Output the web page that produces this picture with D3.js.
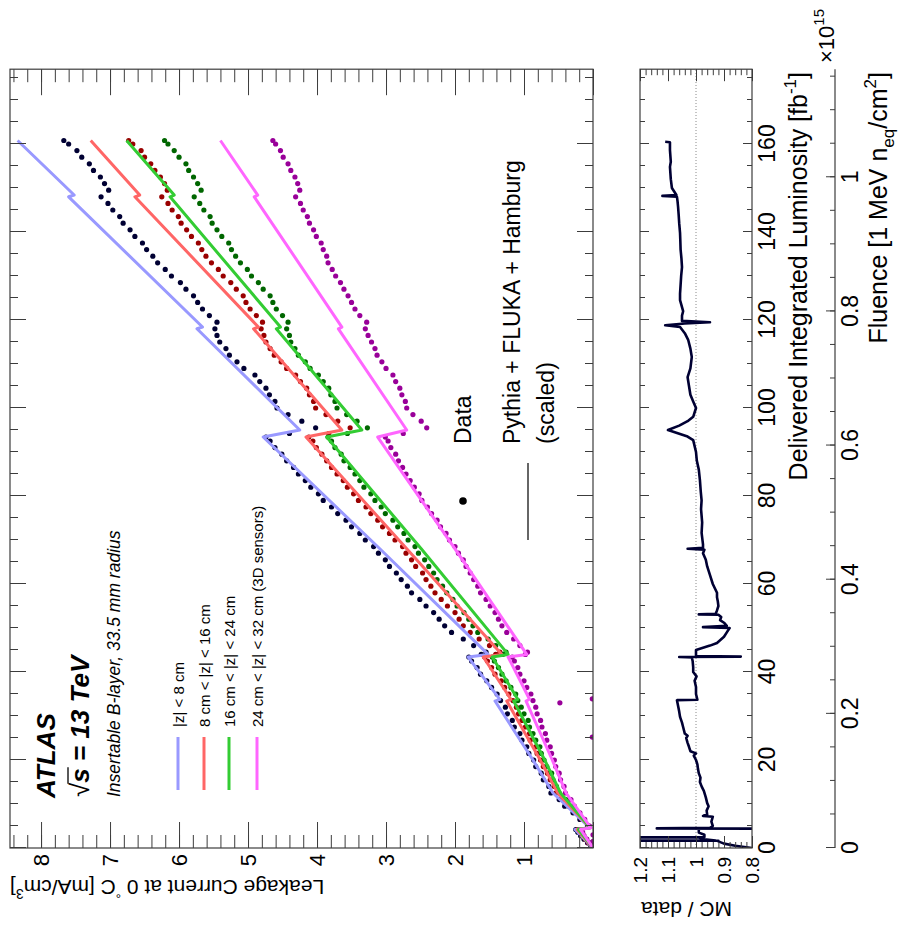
<!DOCTYPE html>
<html><head><meta charset="utf-8">
<script src="https://cdn.jsdelivr.net/npm/d3@7"></script>
<style>
html,body{margin:0;padding:0;background:#fff;}
svg{display:block;}
</style></head><body>
<svg id="chart" width="900" height="925"></svg>
<script>
// ---------------- DATA ----------------
const seriesNames = ["|z| < 8 cm", "8 cm < |z| < 16 cm", "16 cm < |z| < 24 cm", "24 cm < |z| < 32 cm (3D sensors)"];

// Delivered integrated luminosity [fb^-1] of the measured points
const dataLumi = [0.4,1.2,2.0,2.8,3.6,4.2,
 5.0,6.5,8.0,9.5,11.0,12.5,14.0,15.5,17.0,18.5,20.0,21.5,23.0,24.5,26.0,27.5,29.0,30.5,32.0,33.5,35.0,36.5,38.0,39.5,41.0,42.5,43.4,44.0,
 44.5,46.0,47.5,49.0,50.5,52.0,53.5,55.0,56.5,58.0,59.5,61.0,62.5,64.0,65.5,67.0,68.5,70.0,71.5,73.0,74.5,76.0,77.5,79.0,80.5,82.0,83.5,85.0,86.5,88.0,89.5,91.0,92.5,93.4,94.2,
 95.5,97.0,98.5,100.0,101.5,103.0,104.5,106.0,107.5,109.0,110.5,112.0,113.5,115.0,116.5,118.0,119.5,121.0,122.5,124.0,125.5,127.0,128.5,130.0,131.5,133.0,134.5,136.0,137.5,139.0,140.5,142.0,143.5,145.0,146.5,148.0,149.5,151.0,152.5,154.0,155.5,157.0,158.5,160.0,160.8];

// Leakage current at 0 C [mA/cm^3], data
const dataZ1 = [0.03,0.08,0.13,0.18,0.22,0.25,
 0.08,0.19,0.29,0.41,0.49,0.61,0.64,0.72,0.75,0.83,0.86,0.93,0.96,1.03,1.06,1.14,1.17,1.24,1.27,1.34,1.39,1.47,1.54,1.63,1.68,1.76,1.80,1.62,
 1.55,1.73,1.88,2.05,2.15,2.23,2.31,2.42,2.51,2.63,2.69,2.78,2.85,2.95,3.01,3.11,3.18,3.30,3.38,3.50,3.58,3.70,3.79,3.91,3.98,4.09,4.17,4.27,4.34,4.44,4.51,4.61,4.68,4.74,4.40,
 4.02,4.22,4.42,4.58,4.61,4.69,4.74,4.83,4.90,5.06,5.16,5.27,5.32,5.41,5.45,5.48,5.45,5.56,5.66,5.73,5.79,5.90,5.98,6.11,6.20,6.31,6.38,6.47,6.53,6.64,6.71,6.81,6.86,6.96,7.03,7.13,7.02,7.08,7.14,7.24,7.30,7.41,7.48,7.60,7.67];
const dataZ2 = [0.02,0.07,0.11,0.16,0.19,0.22,
 0.07,0.16,0.25,0.35,0.43,0.54,0.56,0.62,0.66,0.72,0.76,0.81,0.83,0.91,0.92,0.98,1.03,1.08,1.11,1.16,1.22,1.28,1.33,1.42,1.47,1.53,1.57,1.41,
 1.35,1.50,1.65,1.78,1.88,1.94,2.00,2.11,2.20,2.29,2.35,2.42,2.47,2.57,2.63,2.71,2.76,2.87,2.95,3.05,3.12,3.22,3.29,3.40,3.47,3.56,3.62,3.71,3.79,3.86,3.93,4.01,4.06,4.12,3.83,
 3.52,3.70,3.87,4.02,4.05,4.11,4.15,4.24,4.31,4.44,4.52,4.62,4.68,4.74,4.77,4.81,4.79,4.88,4.97,5.03,5.07,5.17,5.25,5.36,5.43,5.53,5.61,5.67,5.72,5.82,5.89,5.97,6.01,6.10,6.16,6.25,6.17,6.21,6.27,6.35,6.41,6.50,6.55,6.67,6.73];
const dataZ3 = [0.02,0.06,0.10,0.15,0.18,0.20,
 0.06,0.15,0.24,0.33,0.39,0.49,0.53,0.58,0.60,0.67,0.71,0.75,0.77,0.83,0.87,0.92,0.94,1.00,1.04,1.09,1.12,1.19,1.26,1.32,1.37,1.43,1.46,1.31,
 1.26,1.41,1.52,1.67,1.74,1.80,1.87,1.97,2.03,2.12,2.18,2.26,2.31,2.38,2.44,2.53,2.58,2.68,2.74,2.83,2.90,3.01,3.07,3.16,3.22,3.32,3.38,3.45,3.52,3.61,3.65,3.74,3.79,3.84,3.56,
 3.27,3.42,3.57,3.71,3.74,3.80,3.83,3.91,3.98,4.10,4.17,4.27,4.32,4.38,4.40,4.44,4.42,4.50,4.59,4.64,4.68,4.78,4.85,4.95,5.01,5.11,5.18,5.24,5.28,5.38,5.45,5.52,5.55,5.64,5.70,5.78,5.68,5.73,5.79,5.86,5.90,6.00,6.07,6.16,6.21];
const dataZ4 = [0.02,0.06,0.09,0.13,0.15,0.18,
 0.05,0.12,0.19,0.27,0.32,0.40,0.42,0.47,0.49,0.54,0.56,0.60,0.62,0.67,0.69,0.74,0.76,0.81,0.83,0.87,0.90,0.96,1.00,1.06,1.09,1.14,1.17,0.98,
 0.95,1.06,1.15,1.25,1.32,1.37,1.42,1.49,1.55,1.63,1.67,1.73,1.78,1.84,1.88,1.95,2.00,2.08,2.13,2.21,2.26,2.34,2.40,2.48,2.52,2.59,2.65,2.71,2.76,2.82,2.86,2.93,2.97,3.01,2.75,
 2.41,2.49,2.61,2.70,2.72,2.77,2.80,2.86,2.90,3.00,3.06,3.13,3.16,3.21,3.26,3.30,3.28,3.38,3.45,3.50,3.55,3.61,3.66,3.73,3.78,3.84,3.86,3.91,3.94,4.01,4.05,4.11,4.14,4.20,4.24,4.31,4.25,4.28,4.32,4.38,4.42,4.49,4.53,4.60,4.64];
const purpleExtraLumi = [1.5, 3.0, 25.2, 33.0, 33.9];
const purpleExtraCurrent = [0.0, 0.0, 0.01, 0.48, 0.01];

// Pythia + FLUKA + Hamburg prediction (scaled)
const mcLumi = [0, 4.2, 4.6, 12.5, 20, 33.4, 33.8, 43.4, 44.0, 68, 93.4, 95.0, 118, 118.4, 148, 148.4, 160.8];
const mcZ1 = [0, 0.26, 0.05, 0.58, 0.87, 1.42, 1.35, 1.81, 1.52, 3.09, 4.78, 4.25, 5.74, 5.66, 7.60, 7.52, 8.34];
const mcZ2 = [0, 0.23, 0.04, 0.51, 0.765, 1.25, 1.19, 1.59, 1.32, 2.70, 4.16, 3.64, 4.92, 4.85, 6.64, 6.57, 7.28];
const mcZ3 = [0, 0.21, 0.04, 0.47, 0.70, 1.15, 1.09, 1.46, 1.23, 2.49, 3.86, 3.35, 4.59, 4.53, 6.13, 6.07, 6.76];
const mcZ4 = [0, 0.18, 0.03, 0.39, 0.59, 0.97, 0.92, 1.23, 0.96, 2.00, 3.12, 2.70, 3.69, 3.64, 4.91, 4.86, 5.40];

// MC / data ratio
const ratioLumi = [0.0,0.5,1.0,1.5,1.66,1.66,1.7,2.0,2.4,2.4,2.5,3.0,3.5,4.0,4.4,4.4,4.45,4.6,5.0,6.0,
 7.1,7.3,7.6,8.5,9.5,10.2,11.5,13.0,14.0,15.0,16.0,17.0,18.0,19.0,20.0,21.0,21.5,22.0,23.0,23.9,
 25.0,25.5,26.0,27.5,28.5,29.8,31.0,32.0,33.6,33.7,35.0,36.6,38.0,39.0,40.0,41.1,42.5,43.3,43.4,43.5,
 43.6,45.0,46.0,46.6,48.0,49.0,50.0,50.2,50.5,51.2,51.8,52.5,53.0,53.1,53.2,54.0,55.0,56.0,57.0,58.0,
 60.0,62.0,64.0,65.5,67.0,67.8,68.0,68.2,69.0,71.6,74.0,77.0,79.0,81.0,83.6,86.0,88.0,90.0,92.7,93.5,
 95.0,96.0,97.0,98.0,100.0,101.5,103.0,105.0,107.0,109.0,111.6,113.5,115.5,117.0,118.4,118.8,119.2,119.5,119.8,121.0,
 122.0,124.5,126.0,128.0,130.0,132.0,134.0,136.0,138.0,139.8,142.0,144.0,145.7,147.0,148.0,148.2,148.4,150.0,152.0,154.8,
 156.0,158.6,160.4,160.5];
const ratioValue = [0.80,0.86,0.90,0.92,0.92,1.25,0.93,0.97,0.99,1.25,0.97,0.97,0.99,0.99,0.99,0.78,1.14,0.95,0.94,0.945,
 0.94,0.975,0.96,0.962,0.955,0.96,0.965,0.972,0.98,0.986,0.984,0.99,0.993,0.995,1.0,1.008,1.0,1.02,1.025,1.03,
 1.035,1.03,1.04,1.046,1.05,1.057,1.06,1.063,1.068,0.995,1.0,1.0,1.005,0.998,1.01,1.01,1.012,1.015,1.06,0.84,
 1.0,1.0,0.95,0.925,0.90,0.89,0.88,0.975,0.89,0.90,0.914,0.91,0.92,0.99,0.93,0.925,0.92,0.922,0.925,0.925,
 0.94,0.95,0.96,0.965,0.975,0.97,1.03,0.975,0.975,0.98,0.978,0.982,0.98,0.983,0.986,0.99,0.997,1.0,1.01,1.03,
 1.10,1.06,1.03,1.01,1.0,1.01,1.02,1.025,1.03,1.02,1.015,1.02,1.028,1.04,1.057,1.11,1.04,0.95,1.05,1.05,
 1.046,1.057,1.057,1.055,1.053,1.05,1.052,1.055,1.056,1.057,1.06,1.062,1.064,1.066,1.068,1.12,1.07,1.086,1.09,1.093,
 1.09,1.093,1.093,1.11];

// Axis ticks / labels
const currentTicks = [1,2,3,4,5,6,7,8];
const currentTickLabels = ["1","2","3","4","5","6","7","8"];
const lumiTicks = [0,20,40,60,80,100,120,140,160];
const lumiTickLabels = ["0","20","40","60","80","100","120","140","160"];
const ratioTicks = [0.8,0.9,1.0,1.1,1.2];
const ratioTickLabels = ["0.8","0.9","1","1.1","1.2"];
const fluenceTicks = [0,0.2,0.4,0.6,0.8,1.0];
const fluenceTickLabels = ["0","0.2","0.4","0.6","0.8","1"];
const fluencePerLumi = 0.00656; // 10^15 n_eq/cm^2 per fb^-1

const dataColors = ["#000033", "#990000", "#006600", "#990099"];
const mcColors = ["#9999ff", "#ff6666", "#33cc33", "#ff66ff"];

// ---------------- DRAWING ----------------
const FONT = '"Liberation Sans", Arial, Helvetica, sans-serif';
const AX = "#3c3c3c";
const svg = d3.select("#chart");
// Whole figure is rotated 90 degrees counter-clockwise
const root = svg.append("g").attr("transform", "translate(0,925) rotate(-90)").attr("font-family", FONT);

const U0 = 77, LMAX = 177, U1 = U0 + LMAX * 4.4;
const x = d3.scaleLinear().domain([0, LMAX]).range([U0, U1]);
const yMain = d3.scaleLinear().domain([0, 8.45]).range([593, 10]);
const yRatio = d3.scaleLinear().domain([0.8, 1.2]).range([752, 640]);
const xFlu = d3.scaleLinear().domain([0, LMAX * fluencePerLumi]).range([U0, U1]);

const defs = svg.append("defs");
defs.append("clipPath").attr("id", "clipMain").append("rect")
  .attr("x", U0).attr("y", 10).attr("width", U1 - U0).attr("height", 583);
defs.append("clipPath").attr("id", "clipRatio").append("rect")
  .attr("x", U0).attr("y", 640).attr("width", U1 - U0).attr("height", 112);

function styleAxis(sel, fs) {
  sel.select(".domain").remove();
  sel.attr("font-family", FONT);
  sel.selectAll(".tick line").attr("stroke", AX).attr("stroke-width", 1);
  sel.selectAll(".tick text").attr("font-size", fs).attr("fill", "#000");
}
const steps = (a, b, s) => d3.range(Math.round((b - a) / s) + 1).map(i => +(a + i * s).toFixed(4));
const fmt = (ticks, labels) => (d => { const i = ticks.findIndex(t => Math.abs(t - d) < 1e-9); return i < 0 ? "" : labels[i]; });

// ---- main panel content ----
const plot = root.append("g").attr("clip-path", "url(#clipMain)");
const dataSeries = [dataZ1, dataZ2, dataZ3, dataZ4];
dataSeries.forEach((vals, k) => {
  plot.append("g").selectAll("circle")
    .data(dataLumi.map((l, i) => [l, vals[i]]))
    .join("circle")
    .attr("cx", d => x(d[0])).attr("cy", d => yMain(d[1]))
    .attr("r", 2.6).attr("fill", dataColors[k]);
});
plot.append("g").selectAll("circle")
  .data(purpleExtraLumi.map((l, i) => [l, purpleExtraCurrent[i]]))
  .join("circle")
  .attr("cx", d => x(d[0])).attr("cy", d => yMain(d[1]))
  .attr("r", 2.6).attr("fill", dataColors[3]);

const mcSeries = [mcZ1, mcZ2, mcZ3, mcZ4];
const mainLine = d3.line().x(d => x(d[0])).y(d => yMain(d[1]));
mcSeries.forEach((vals, k) => {
  plot.append("path")
    .attr("d", mainLine(mcLumi.map((l, i) => [l, vals[i]])))
    .attr("fill", "none").attr("stroke", mcColors[k]).attr("stroke-width", 3)
    .attr("stroke-linejoin", "round");
});

// ---- main panel axes ----
const curMinor = steps(0, 8.4, 0.2);
const lumiMinor = steps(0, 175, 5);
let a;
a = root.append("g").attr("transform", `translate(${U0},0)`);
styleAxis(a.append("g").call(d3.axisLeft(yMain).tickValues(curMinor).tickSize(-13).tickFormat("")), 20);
styleAxis(a.append("g").call(d3.axisLeft(yMain).tickValues([0, ...currentTicks]).tickSize(-26).tickPadding(6)
  .tickFormat(fmt(currentTicks, currentTickLabels))), 22);
a = root.append("g").attr("transform", `translate(${U1},0)`);
styleAxis(a.append("g").call(d3.axisRight(yMain).tickValues(curMinor).tickSize(-13).tickFormat("")), 20);
styleAxis(a.append("g").call(d3.axisRight(yMain).tickValues([0, ...currentTicks]).tickSize(-26).tickFormat("")), 20);
a = root.append("g").attr("transform", "translate(0,593)");
styleAxis(a.append("g").call(d3.axisBottom(x).tickValues(lumiMinor).tickSize(-8).tickFormat("")), 20);
styleAxis(a.append("g").call(d3.axisBottom(x).tickValues(lumiTicks).tickSize(-16).tickFormat("")), 20);
a = root.append("g").attr("transform", "translate(0,10)");
styleAxis(a.append("g").call(d3.axisTop(x).tickValues(lumiMinor).tickSize(-8).tickFormat("")), 20);
styleAxis(a.append("g").call(d3.axisTop(x).tickValues(lumiTicks).tickSize(-16).tickFormat("")), 20);

root.append("rect").attr("x", U0).attr("y", 10).attr("width", U1 - U0).attr("height", 583)
  .attr("fill", "none").attr("stroke", AX).attr("stroke-width", 1.2);

// ---- ratio panel ----
root.append("line").attr("x1", U0).attr("x2", U1).attr("y1", yRatio(1)).attr("y2", yRatio(1))
  .attr("stroke", "#8a8a8a").attr("stroke-width", 1).attr("stroke-dasharray", "1,2");
const ratioLine = d3.line().x(d => x(d[0])).y(d => yRatio(d[1]));
root.append("g").attr("clip-path", "url(#clipRatio)").append("path")
  .attr("d", ratioLine(ratioLumi.map((l, i) => [l, ratioValue[i]])))
  .attr("fill", "none").attr("stroke", "#000033").attr("stroke-width", 2.6)
  .attr("stroke-linejoin", "round");

const ratioMinor = steps(0.8, 1.2, 0.02);
a = root.append("g").attr("transform", `translate(${U0},0)`);
styleAxis(a.append("g").call(d3.axisLeft(yRatio).tickValues(ratioMinor).tickSize(-6).tickFormat("")), 19);
styleAxis(a.append("g").call(d3.axisLeft(yRatio).tickValues(ratioTicks).tickSize(-12).tickPadding(9)
  .tickFormat(fmt(ratioTicks, ratioTickLabels))), 19);
a = root.append("g").attr("transform", `translate(${U1},0)`);
styleAxis(a.append("g").call(d3.axisRight(yRatio).tickValues(ratioMinor).tickSize(-6).tickFormat("")), 19);
styleAxis(a.append("g").call(d3.axisRight(yRatio).tickValues(ratioTicks).tickSize(-12).tickFormat("")), 19);
a = root.append("g").attr("transform", "translate(0,752)");
styleAxis(a.append("g").call(d3.axisBottom(x).tickValues(lumiMinor).tickSize(-5).tickFormat("")), 23);
styleAxis(a.append("g").call(d3.axisBottom(x).tickValues(lumiTicks).tickSize(-9).tickPadding(7)
  .tickFormat(fmt(lumiTicks, lumiTickLabels))), 23);
a = root.append("g").attr("transform", "translate(0,640)");
styleAxis(a.append("g").call(d3.axisTop(x).tickValues(lumiMinor).tickSize(-5).tickFormat("")), 23);
styleAxis(a.append("g").call(d3.axisTop(x).tickValues(lumiTicks).tickSize(-9).tickFormat("")), 23);

root.append("rect").attr("x", U0).attr("y", 640).attr("width", U1 - U0).attr("height", 112)
  .attr("fill", "none").attr("stroke", AX).attr("stroke-width", 1.2);

// ---- fluence axis ----
root.append("line").attr("x1", U0).attr("x2", U1).attr("y1", 835).attr("y2", 835)
  .attr("stroke", AX).attr("stroke-width", 1.2);
a = root.append("g").attr("transform", "translate(0,835)");
styleAxis(a.append("g").call(d3.axisBottom(xFlu).tickValues(steps(0, 1.15, 0.05)).tickSize(-5).tickFormat("")), 23);
styleAxis(a.append("g").call(d3.axisBottom(xFlu).tickValues(fluenceTicks).tickSize(-9).tickPadding(7)
  .tickFormat(fmt(fluenceTicks, fluenceTickLabels))), 23);
const expo = root.append("text").attr("x", 862).attr("y", 834).attr("font-size", 22);
expo.append("tspan").text("×10");
expo.append("tspan").attr("font-size", 15).attr("dy", -10).text("15");

// ---- axis titles ----
const yt = root.append("text").attr("transform", "translate(45,10) rotate(-90)")
  .attr("text-anchor", "end").attr("font-size", 21);
yt.append("tspan").text("Leakage Current at 0 ");
yt.append("tspan").attr("font-size", 13).attr("dy", -9).text("°");
yt.append("tspan").attr("dy", 9).text("C [mA/cm");
yt.append("tspan").attr("font-size", 14).attr("dy", -9).text("3");
yt.append("tspan").attr("dy", 9).text("]");

root.append("text").attr("transform", "translate(23,641) rotate(-90)")
  .attr("text-anchor", "end").attr("font-size", 21).text("MC / data");

const xt = root.append("text").attr("x", 853).attr("y", 807).attr("text-anchor", "end").attr("font-size", 25);
xt.append("tspan").text("Delivered Integrated Luminosity [fb");
xt.append("tspan").attr("font-size", 17).attr("dy", -11).text("-1");
xt.append("tspan").attr("dy", 11).text("]");

const ft = root.append("text").attr("x", 853).attr("y", 887).attr("text-anchor", "end").attr("font-size", 25);
ft.append("tspan").text("Fluence [1 MeV n");
ft.append("tspan").attr("font-size", 17).attr("dy", 7).text("eq");
ft.append("tspan").attr("dy", -7).text("/cm");
ft.append("tspan").attr("font-size", 17).attr("dy", -11).text("2");
ft.append("tspan").attr("dy", 11).text("]");

// ---- ATLAS labels ----
root.append("text").attr("x", 127).attr("y", 55).attr("font-size", 26)
  .attr("font-weight", "bold").attr("font-style", "italic").text("ATLAS");
const sq = root.append("text").attr("x", 128).attr("y", 89).attr("font-size", 26);
sq.append("tspan").attr("font-weight", "normal").text("√");
sq.append("tspan").attr("font-weight", "bold").attr("font-style", "italic").text("s = 13 TeV");
{
  const n = sq.node();
  const w0 = n.getSubStringLength(0, 1), w1 = n.getSubStringLength(1, 1);
  root.append("line").attr("x1", 128 + w0 - 1).attr("x2", 128 + w0 + w1 + 1)
    .attr("y1", 68).attr("y2", 68).attr("stroke", "#000").attr("stroke-width", 1.3);
}
root.append("text").attr("x", 128).attr("y", 120).attr("font-size", 17.5)
  .attr("font-style", "italic").text("Insertable B-layer, 33.5 mm radius");

// ---- legend (z ranges) ----
const legV = [178, 204, 229, 257];
seriesNames.forEach((name, k) => {
  root.append("line").attr("x1", 135).attr("x2", 188).attr("y1", legV[k]).attr("y2", legV[k])
    .attr("stroke", mcColors[k]).attr("stroke-width", 3);
  root.append("text").attr("x", 198).attr("y", legV[k]).attr("dominant-baseline", "central")
    .attr("font-size", 15).text(name);
});

// ---- legend (data / MC) ----
root.append("circle").attr("cx", 424).attr("cy", 463).attr("r", 3.8).attr("fill", "#000");
root.append("text").attr("x", 481).attr("y", 463).attr("dominant-baseline", "central")
  .attr("font-size", 23).text("Data");
root.append("line").attr("x1", 385).attr("x2", 462).attr("y1", 528).attr("y2", 528)
  .attr("stroke", "#333").attr("stroke-width", 1.5);
root.append("text").attr("x", 481).attr("y", 512).attr("dominant-baseline", "central")
  .attr("font-size", 23).text("Pythia + FLUKA + Hamburg");
root.append("text").attr("x", 481).attr("y", 546).attr("dominant-baseline", "central")
  .attr("font-size", 23).text("(scaled)");
</script></body></html>
